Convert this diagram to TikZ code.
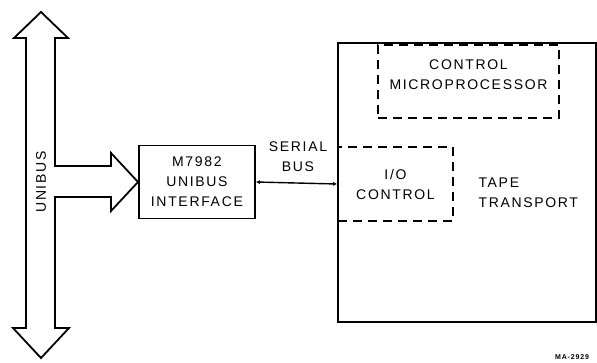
\documentclass[tikz,border=0pt]{standalone}
\usepackage{fontspec}
\newfontfamily\lblfont{Liberation Sans}[LetterSpace=12]
\usetikzlibrary{positioning, arrows.meta}
\tikzset{
  unit/.style={draw, line width=1.8pt, inner sep=0pt, align=center},
  dashbox/.style={draw, line width=1.6pt, dash pattern=on 9pt off 6pt, inner sep=0pt, align=center},
  lbl/.style={font=\lblfont\fontsize{14}{20}\selectfont}
}
\begin{document}
\begin{tikzpicture}[x=1pt, y=-1pt, lbl]
  \useasboundingbox (0,0) rectangle (597,362);
  % unibus with branch
  \draw[line width=1.8pt, line join=miter] (41,12) -- (68,38) -- (55,38) -- (55,166) -- (111,166) -- (111,153)
        -- (138,182) coordinate (tip) -- (111,211) -- (111,197) -- (55,197) -- (55,328) -- (69,328)
        -- (41,358) -- (13,328) -- (26,328) -- (26,38) -- (14,38) -- cycle;
  \node[rotate=90] (unibus) at (41,182) {UNIBUS};
  % interface and tape transport
  \node[unit, minimum width=116pt, minimum height=73pt, anchor=west] (iface) at (tip) {M7982\\UNIBUS\\INTERFACE};
  \draw[line width=1.8pt] (338,43) coordinate (T1) -- (596,43) -- (596,322) -- (338,322) coordinate (T2) -- cycle;
  \node[dashbox, minimum width=181pt, minimum height=73pt] (cpu) at (468.5,81.5) {CONTROL\\MICROPROCESSOR\\[-7pt]\mbox{}};
  \node[dashbox, minimum width=115pt, minimum height=74pt] (io) at (395.5,184) {I/O\\CONTROL};
  \node[anchor=west, align=left] (tape) at (475,193) {TAPE\\TRANSPORT};
  % serial bus
  \draw[line width=1.4pt, {Latex[length=4pt,width=4pt]}-{Latex[length=4pt,width=4pt]}] (iface.east) -- (io.west);
  \node[align=center] (serial) at (298,157) {SERIAL\\BUS};
  \node[font=\lblfont\bfseries\fontsize{7}{8}\selectfont] (ref) at (572,357) {MA-2929};
\end{tikzpicture}
\end{document}
